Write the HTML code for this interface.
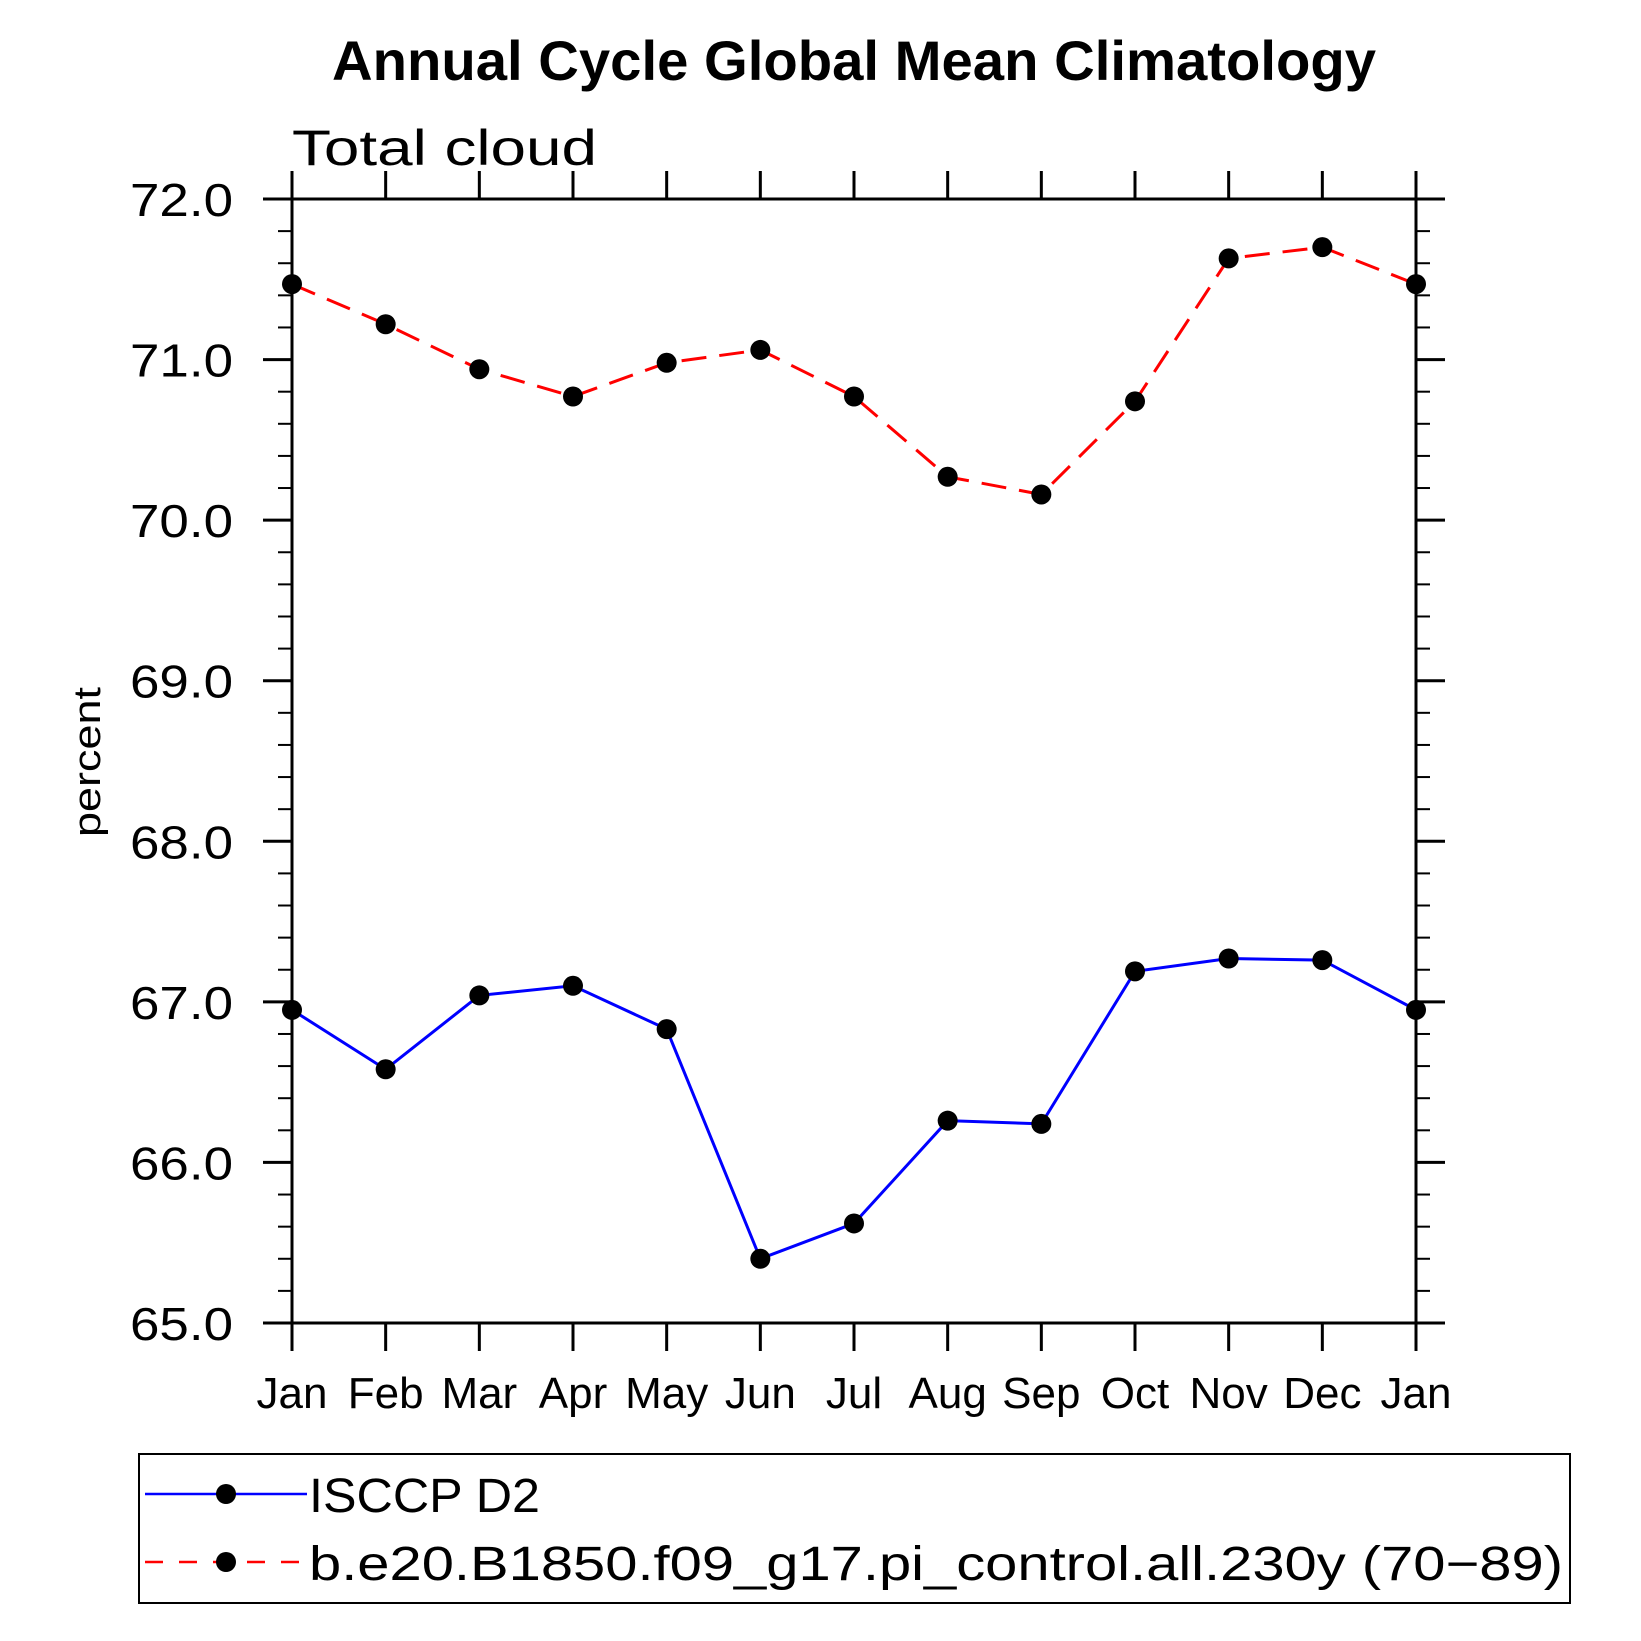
<!DOCTYPE html>
<html><head><meta charset="utf-8"><style>html,body{margin:0;padding:0;background:#fff}svg{display:block}text{font-family:"Liberation Sans",sans-serif}</style></head>
<body>
<svg id="chart" width="1641" height="1641" viewBox="0 0 1641 1641" xmlns="http://www.w3.org/2000/svg">
<text x="854" y="80" text-anchor="middle" font-size="56" font-weight="bold" textLength="1044" lengthAdjust="spacingAndGlyphs">Annual Cycle Global Mean Climatology</text>
<text x="292" y="165" font-size="50" font-weight="300" textLength="305" lengthAdjust="spacingAndGlyphs">Total cloud</text>
<text transform="translate(100,762) rotate(-90)" text-anchor="middle" font-size="38" textLength="150" lengthAdjust="spacingAndGlyphs">percent</text>
<g id="axes"></g>
<g id="series"></g>
<g>
<rect x="139" y="1454" width="1431" height="149" fill="none" stroke="#000" stroke-width="2"/>
<g>
<line x1="145" y1="1494" x2="307" y2="1494" stroke="#00f" stroke-width="2.5"/>
<circle cx="226" cy="1494" r="10"/>
<text x="309" y="1512" font-size="48" textLength="231" lengthAdjust="spacingAndGlyphs">ISCCP D2</text>
</g>
<g>
<line x1="145" y1="1562" x2="307" y2="1562" stroke="#f00" stroke-width="2.5" stroke-dasharray="18,16"/>
<circle cx="226" cy="1562" r="10"/>
<text x="309" y="1580" font-size="48" textLength="1254" lengthAdjust="spacingAndGlyphs">b.e20.B1850.f09_g17.pi_control.all.230y (70−89)</text>
</g>
</g>
</svg>
<script>
const months = ["Jan","Feb","Mar","Apr","May","Jun","Jul","Aug","Sep","Oct","Nov","Dec","Jan"];
const isccpValues = [66.95,66.58,67.04,67.10,66.83,65.40,65.62,66.26,66.24,67.19,67.27,67.26,66.95];
const modelValues = [71.47,71.22,70.94,70.77,70.98,71.06,70.77,70.27,70.16,70.74,71.63,71.70,71.47];
const yTicks = [65,66,67,68,69,70,71,72];
const yTickLabels = ["65.0","66.0","67.0","68.0","69.0","70.0","71.0","72.0"];
const yMin = 65, yMax = 72;

const L=292,R=1416,T=199,B=1323;
const NS="http://www.w3.org/2000/svg";
function xs(i){return L+(R-L)*i/(months.length-1);}
function ys(v){return B-(B-T)*(v-yMin)/(yMax-yMin);}
function mk(tag,attrs,parent){const e=document.createElementNS(NS,tag);for(const k in attrs)e.setAttribute(k,attrs[k]);parent.appendChild(e);return e;}
const axes=document.getElementById('axes'), series=document.getElementById('series');

const frame=mk('rect',{x:L,y:T,width:R-L,height:B-T,fill:'none',stroke:'#000','stroke-width':3},axes);



months.forEach((m,i)=>{
  const x=xs(i);
  const t1=mk('line',{x1:x,y1:B,x2:x,y2:B+28,stroke:'#000','stroke-width':3},axes);
  
  
  const t2=mk('line',{x1:x,y1:T,x2:x,y2:T-28,stroke:'#000','stroke-width':3},axes);
  
  
  const tx=mk('text',{x:x,y:1408,'text-anchor':'middle','font-size':44},axes);
  
  
  tx.textContent=m;
});
for(let k=0;k<=(yMax-yMin)*5;k++){
  const v=yMin+k*0.2, y=ys(v);
  const major=(k%5===0);
  const len=major?29:14;
  const a=mk('line',{x1:L-len,y1:y,x2:L,y2:y,stroke:'#000','stroke-width':major?3:2},axes);
  
  
  const b=mk('line',{x1:R,y1:y,x2:R+len,y2:y,stroke:'#000','stroke-width':major?3:2},axes);
  
  
}
yTicks.forEach((v,i)=>{
  const t=mk('text',{x:233,y:ys(v)+17,'text-anchor':'end','font-size':46,textLength:103,lengthAdjust:'spacingAndGlyphs'},axes);
  
  
  t.textContent=yTickLabels[i];
});

function drawSeries(vals,color,dash,name){
  const pts=vals.map((v,i)=>xs(i)+','+ys(v)).join(' ');
  const pl=mk('polyline',{points:pts,fill:'none',stroke:color,'stroke-width':3},series);
  if(dash)pl.setAttribute('stroke-dasharray',dash);
  
  
  vals.forEach((v,i)=>{
    const c=mk('circle',{cx:xs(i),cy:ys(v),r:10,fill:'#000'},series);
    
    
  });
}
drawSeries(modelValues,'#f00','25,13','model');
drawSeries(isccpValues,'#00f',null,'isccp');
</script>
</body></html>
